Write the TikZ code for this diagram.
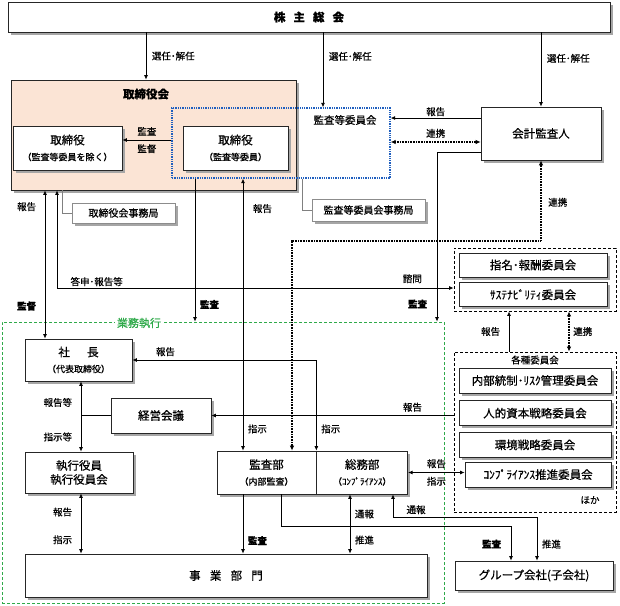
\documentclass[tikz,border=0pt]{standalone}
\usepackage{fontspec}
\setmainfont{Noto Sans CJK JP}[RawFeature={embolden=0.6}]
\usepackage{tikz}
\usetikzlibrary{arrows.meta, positioning, shadows}

\definecolor{peach}{HTML}{FBE4D5}
\definecolor{kblue}{HTML}{1F5FBF}
\definecolor{kgreen}{HTML}{2FAA4A}

\newcommand{\subtxt}[1]{{\fontsize{9}{11}\selectfont #1}}

\begin{document}
\begin{tikzpicture}[
  x=1pt, y=-1pt,
  box/.style={draw=black!85, fill=white, line width=0.7pt, align=center, inner sep=1pt,
              drop shadow={shadow xshift=2.5pt, shadow yshift=-2.5pt, fill=black!35, opacity=1},
              font=\fontsize{11.5}{14}\selectfont},
  jimu/.style={box, draw=black!45, line width=0.5pt, font=\fontsize{10}{12}\selectfont},
  grp/.style={draw, line width=0.8pt, dash pattern=on 3pt off 2pt},
  ttl/.style={font=\fontsize{11.5}{14}\selectfont\bfseries},
  lbl/.style={font=\fontsize{9.5}{11}\selectfont, inner sep=1.5pt},
  blbl/.style={lbl, font=\fontsize{9.5}{11}\selectfont\bfseries},
  arr/.style={line width=0.8pt, -{Latex[length=4.5pt,width=4pt]}},
  biarr/.style={line width=0.8pt, {Latex[length=4.5pt,width=4pt]}-{Latex[length=4.5pt,width=4pt]}},
  renkei/.style={line width=1.5pt, dash pattern=on 1pt off 0.6pt,
                 {Latex[length=5pt,width=4.5pt]}-{Latex[length=5pt,width=4.5pt]}},
  plain/.style={line width=0.8pt},
  link/.style={draw=black!50, line width=0.5pt},
]
  \useasboundingbox (0,0) rectangle (620,605);

  % ── 業務執行 (frame) ──
  \node[draw=kgreen, line width=0.8pt, dash pattern=on 3pt off 2pt,
        minimum width=442pt, minimum height=281pt] (gyomu) at (223,462.5) {};

  % ── 株主総会 ──
  \node[box, ttl, minimum width=602pt, minimum height=30pt] (kabu) at (309,17)
    {株\hspace{.7em}主\hspace{.7em}総\hspace{.7em}会};

  % ── 取締役会 ──
  \node[box, fill=peach, minimum width=285pt, minimum height=110pt] (tbk) at (153.5,135) {};
  \node[ttl] (tbkttl) at (146,94) {取締役会};
  \node[draw=kblue, line width=1.3pt, densely dotted,
        minimum width=218pt, minimum height=70pt] (kiin) at (281,143) {};
  \node[font=\fontsize{10.5}{13}\selectfont] (kiinttl) at (345,120) {監査等委員会};
  \node[box, minimum width=109pt, minimum height=44pt] (tor1) at (67.5,148)
    {取締役\\[2pt]\subtxt{（監査等委員を除く）}};
  \node[box, minimum width=105pt, minimum height=44pt] (tor2) at (235.5,148)
    {取締役\\[2pt]\subtxt{（監査等委員）}};
  \node[jimu, minimum width=103pt, minimum height=20pt] (tbkjim) at (123.5,213) {取締役会事務局};
  \node[jimu, minimum width=113pt, minimum height=22pt] (kiinjim) at (368.5,210) {監査等委員会事務局};

  % ── 会計監査人 ──
  \node[box, minimum width=120pt, minimum height=53pt] (kaikei) at (541,133.5) {会計監査人};

  % ── 委員会 ──
  \node[grp, minimum width=162pt, minimum height=63pt] (comm1) at (535,279.5) {};
  \node[box, minimum width=148pt, minimum height=24pt] (shimei) at (533,265) {指名･報酬委員会};
  \node[box, minimum width=148pt, minimum height=24pt, below=5pt of shimei] (sust) {ｻｽﾃﾅﾋﾞﾘﾃｨ委員会};

  \node[grp, minimum width=162pt, minimum height=160pt] (comm2) at (535,432) {};
  \node[lbl] (kakushu) at (535,360) {各種委員会};
  \node[box, minimum width=152pt, minimum height=25pt] (naibu) at (535,380.5) {内部統制･ﾘｽｸ管理委員会};
  \node[box, minimum width=152pt, minimum height=25pt, below=7pt of naibu] (jinteki) {人的資本戦略委員会};
  \node[box, minimum width=152pt, minimum height=25pt, below=6pt of jinteki] (kankyo) {環境戦略委員会};
  \node[box, minimum width=146pt, minimum height=25pt] (comp) at (538,474.5) {ｺﾝﾌﾟﾗｲｱﾝｽ推進委員会};
  \node[lbl] (hoka) at (590,500) {ほか};

  % ── 業務執行の各部 ──
  \node[box, minimum width=107pt, minimum height=42pt] (shacho) at (78.5,360)
    {社\hspace{1.5em}長\\[2pt]\subtxt{（代表取締役）}};
  \node[box, minimum width=100pt, minimum height=35pt] (keiei) at (161,415.5) {経営会議};
  \node[box, minimum width=108pt, minimum height=41pt] (shikko) at (79,472.5) {執行役員\\執行役員会};
  \node[box, minimum width=99pt, minimum height=43pt] (kansabu) at (266.5,472.5)
    {監査部\\[2pt]\subtxt{（内部監査）}};
  \node[box, minimum width=91pt, minimum height=43pt, right=0pt of kansabu] (somubu)
    {総務部\\[2pt]\subtxt{（ｺﾝﾌﾟﾗｲｱﾝｽ）}};
  \node[box, minimum width=402pt, minimum height=43pt] (jigyo) at (226,575.5)
    {事\hspace{.8em}業\hspace{.8em}部\hspace{.8em}門};
  \node[box, minimum width=158pt, minimum height=29pt] (group) at (534,575.5) {グループ会社(子会社)};

  \node[font=\fontsize{11}{13}\selectfont, text=kgreen, fill=white, inner sep=2pt] (gyomuttl) at (139,323) {業務執行};

  % ── 株主総会から ──
  \draw[arr] (kabu.south -| tbkttl) -- node[lbl, right=4pt] (sen1) {選任･解任} (tbk.north -| tbkttl);
  \draw[arr] (kabu.south -| 323,0) -- node[lbl, right=4pt, pos=0.32] (sen2) {選任･解任} (kiin.north -| 323,0);
  \draw[arr] (kabu.south -| kaikei.north) -- node[lbl, right=4pt, pos=0.35] (sen3) {選任･解任} (kaikei.north);

  % ── 取締役会まわり ──
  \draw[arr] (kiin.west |- 0,140) -- node[lbl, above=2.5pt] (kan1) {監査} node[lbl, below=2.5pt] (kantoku1) {監督} (tor1.east |- 0,140);
  \draw[link] (tbk.south -| 62,0) |- (tbkjim.west);
  \draw[link] (kiin.south -| 302,0) |- (kiinjim.west);

  % ── 会計監査人 ──
  \draw[arr] (kaikei.west |- 0,118) -- node[lbl, above] (hok1) {報告} (kiin.east |- 0,118);
  \draw[renkei] (kiin.east |- 0,142) -- node[lbl, above=2pt] (ren1) {連携} (kaikei.west |- 0,142);
  \draw[arr] (kaikei.west |- 0,152) -| node[blbl, left=8pt, pos=0.948] (kan2) {監査} (gyomu.north -| 437,0);
  \draw[renkei] (kansabu.north -| 292,0) -- (292,241) -| node[lbl, right=5pt, pos=0.74] (ren2) {連携} (kaikei.south);

  % ── 取締役会から業務執行へ ──
  \draw[biarr] (tbk.south -| 45,0) -- node[lbl, left=7pt, pos=0.11] (hok2) {報告}
    node[blbl, left=7pt, pos=0.78] (kantoku2) {監督} (shacho.north -| 45,0);
  \draw[biarr] (tbk.south -| 57,0) |- node[lbl, above, pos=0.55] (toshin) {答申･報告等}
    node[lbl, above=3pt, pos=0.948] (shimon) {諮問} (comm1.west |- 0,288);
  \draw[arr] (kiin.south -| 195,0) -- node[blbl, right=3pt, pos=0.88] (kan3) {監査} (gyomu.north -| 195,0);
  \draw[biarr] (kiin.south -| 243,0) -- node[lbl, right=8pt, pos=0.11] (hok3) {報告}
    node[lbl, right=3pt, pos=0.92] (shiji1) {指示} (kansabu.north -| 243,0);

  % ── 業務執行 ──
  \draw[biarr] (somubu.north west) |- node[lbl, right=3pt, pos=0.12] (shiji2) {指示}
    node[lbl, above=2pt, pos=0.91] (hok4) {報告} (shacho.east);
  \draw[arr] (comm2.west |- keiei.east) -- node[lbl, above=2pt, pos=0.17] (hok5) {報告} (keiei.east);
  \draw[plain] (keiei.west) -- (keiei.west -| 81,0);
  \draw[biarr] (shacho.south -| 81,0) -- node[lbl, left=7pt, pos=0.3] (hok6) {報告等}
    node[lbl, left=7pt, pos=0.79] (shiji3) {指示等} (shikko.north -| 81,0);
  \draw[biarr] (shikko.south -| 81,0) -- node[lbl, left=7pt, pos=0.31] (hok7) {報告}
    node[lbl, left=7pt, pos=0.77] (shiji4) {指示} (jigyo.north -| 81,0);
  \draw[arr] (kansabu.south -| 243,0) -- node[blbl, right=3pt, pos=0.78] (kan4) {監査} (jigyo.north -| 243,0);
  \draw[arr] (kansabu.south -| 281,0) -- (281,526) -| node[blbl, left=8pt, pos=0.76] (kan5) {監査} (group.north -| 511,0);
  \draw[biarr] (somubu.south -| 350,0) -- node[lbl, right=3pt, pos=0.33] (tsu1) {通報}
    node[lbl, right=3pt, pos=0.77] (sui1) {推進} (jigyo.north -| 350,0);
  \draw[biarr] (somubu.south -| 393,0) -- (393,517) -| node[lbl, above=1pt, pos=0.08] (tsu2) {通報}
    node[lbl, right=3pt, pos=0.81] (sui2) {推進} (group.north -| 537,0);
  \draw[biarr] (somubu.east) -- node[lbl, above=2.5pt] (hok8) {報告} node[lbl, below=2.5pt] (shiji5) {指示} (comp.west |- somubu.east);

  % ── 委員会どうし ──
  \draw[arr] (comm2.north -| 509,0) -- node[lbl, left=7pt] (hok9) {報告} (comm1.south -| 509,0);
  \draw[renkei] (comm1.south -| 569,0) -- node[lbl, right=2pt] (ren3) {連携} (comm2.north -| 569,0);
\end{tikzpicture}
\end{document}
